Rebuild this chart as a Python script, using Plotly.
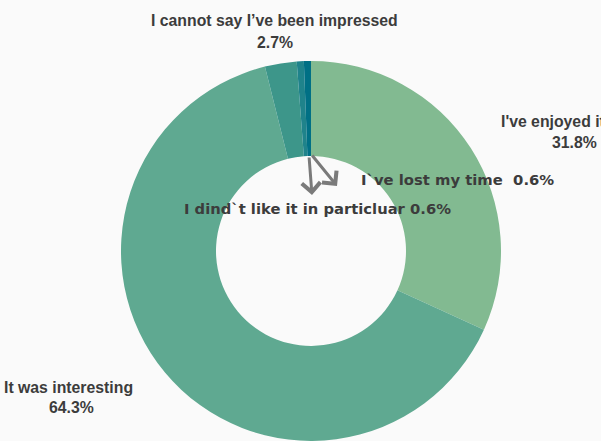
import plotly.graph_objects as go

# Survey answers, clockwise from 12 o'clock
labels = [
    "I've enjoyed it",
    "It was interesting",
    "I cannot say I’ve been impressed",
    "I dind`t like it in particluar",
    "I`ve lost my time",
]
values = [31.8, 64.3, 2.7, 0.6, 0.6]
colors = ["#82ba91", "#5fa991", "#3d968a", "#1f838b", "#007085"]

W, H = 601, 441
BG = "#fafafa"
TXT = "#3c3c3c"

fig = go.Figure(
    go.Pie(
        labels=labels,
        values=values,
        hole=0.5,
        sort=False,
        direction="clockwise",
        rotation=0,
        textinfo="none",
        hoverinfo="label+percent",
        marker=dict(colors=colors, line=dict(width=0)),
        domain=dict(x=[(311 - 190) / W, (311 + 190) / W], y=[0, 0.862]),
        showlegend=False,
    )
)


def px(x, y):
    return x / W, 1 - y / H


def label(text, x, y, size=15.8, family="Liberation Sans", xanchor="center"):
    xx, yy = px(x, y)
    fig.add_annotation(
        x=xx, y=yy, xref="paper", yref="paper", text=text, showarrow=False,
        xanchor=xanchor, yanchor="middle",
        font=dict(family=family, size=size, color=TXT, weight="bold"),
    )


def pct(v):
    return f"{v:.1f}%"


# two-line outside labels
label(labels[2], 274, 20)
label(pct(values[2]), 275, 42)
label(labels[0], 553, 122)
label(pct(values[0]), 574, 142)
label(labels[1], 68, 387)
label(pct(values[1]), 71, 407)

# call-outs for the two thin slices
label(labels[4] + "\u00a0\u00a0" + pct(values[4]), 359, 179, size=14.8,
      family="DejaVu Sans", xanchor="left")
label(labels[3] + " " + pct(values[3]), 317, 208, size=14.75, family="DejaVu Sans")


def arrow(x0, y0, x1, y1):
    xx, yy = px(x1, y1)
    fig.add_annotation(
        x=xx, y=yy, xref="paper", yref="paper", text="",
        showarrow=True, axref="pixel", ayref="pixel",
        ax=x0 - x1, ay=y0 - y1,
        arrowhead=4, arrowsize=1.2, arrowwidth=3, arrowcolor="#7a7a7a",
    )


arrow(309, 156, 312, 195)
arrow(311, 154, 337, 186)

fig.update_layout(
    width=W, height=H,
    margin=dict(l=0, r=0, t=0, b=0),
    paper_bgcolor=BG, plot_bgcolor=BG,
)

fig.write_html("out.html")
